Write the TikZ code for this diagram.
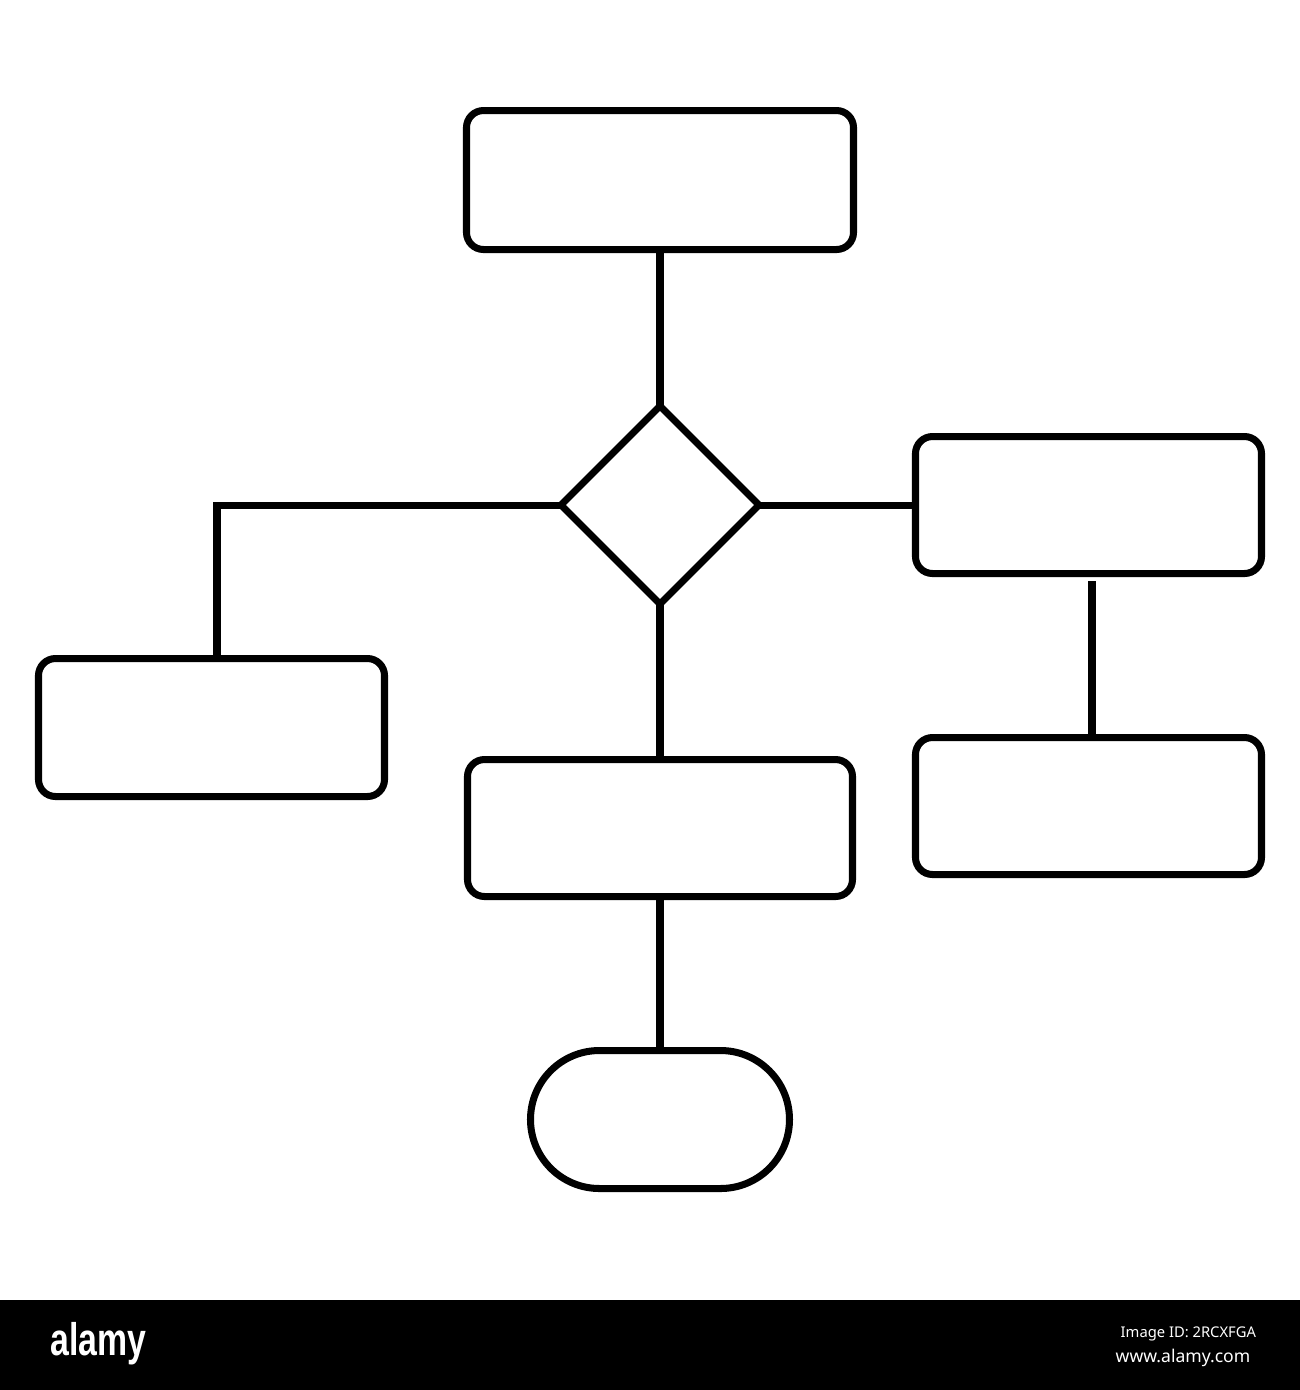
\documentclass[tikz,border=0pt]{standalone}
\usepackage{fontspec}
\setsansfont{Liberation Sans}
\newfontfamily\idfont{Noto Sans}
\usetikzlibrary{shapes.geometric}

\tikzset{
	procbox/.style={shape=rectangle,draw=black,line width=2pt,rounded corners=0.17cm,inner sep=0pt},
	decision/.style={shape=diamond,draw=black,line width=2pt,inner sep=0pt,outer sep=0pt,minimum size=1.98cm},
	terminal/.style={shape=rectangle,draw=black,line width=2pt,rounded corners=0.69cm,inner sep=0pt},
	link/.style={draw=black,line width=2pt}
}

\begin{document}
\begin{tikzpicture}
	\useasboundingbox (0,0) rectangle (13,-13.9);
	\fill[white] (0,0) rectangle (13,-13.9);
	\node[procbox,minimum width=3.87cm,minimum height=1.39cm] (start) at (6.60,-1.80) {};
	\node[decision] (dec) at (6.60,-5.05) {};
	\node[procbox,minimum width=3.46cm,minimum height=1.37cm] (right) at (10.885,-5.05) {};
	\node[procbox,minimum width=3.46cm,minimum height=1.37cm] (rightlow) at (10.885,-8.06) {};
	\node[procbox,minimum width=3.46cm,minimum height=1.38cm] (left) at (2.115,-7.275) {};
	\node[procbox,minimum width=3.85cm,minimum height=1.37cm] (mid) at (6.60,-8.28) {};
	\node[terminal,minimum width=2.59cm,minimum height=1.38cm] (stop) at (6.60,-11.195) {};
	\coordinate (lturn) at (2.17,-5.05);
	\coordinate (rdrop) at (10.92,-5.81);
	\draw[link] (start) -- (dec);
	\draw[link] (dec.west) -- (lturn) -- (lturn |- left.north);
	\draw[link] (dec.east) -- (right.west);
	\draw[link] (rdrop) -- (rdrop |- rightlow.north);
	\draw[link] (dec) -- (mid);
	\draw[link] (mid) -- (stop);
	%\draw[link] (left) -- (mid);
	\fill[black] (0,-13.0) rectangle (13,-13.9);
	\node[anchor=base west,inner sep=0pt,text=white,font=\sffamily\bfseries\fontsize{13pt}{13pt}\selectfont] (brand) at (0.50,-13.55) {\scalebox{0.74}[1]{alamy}};
	\node[anchor=base west,inner sep=0pt,text=white,font=\idfont\fontsize{4.2pt}{5pt}\selectfont] (imgid) at (11.20,-13.37) {Image ID: 2RCXFGA};
	\node[anchor=base west,inner sep=0pt,text=white,font=\idfont\bfseries\fontsize{5pt}{6pt}\selectfont] (site) at (11.15,-13.62) {www.alamy.com};
\end{tikzpicture}
\end{document}
